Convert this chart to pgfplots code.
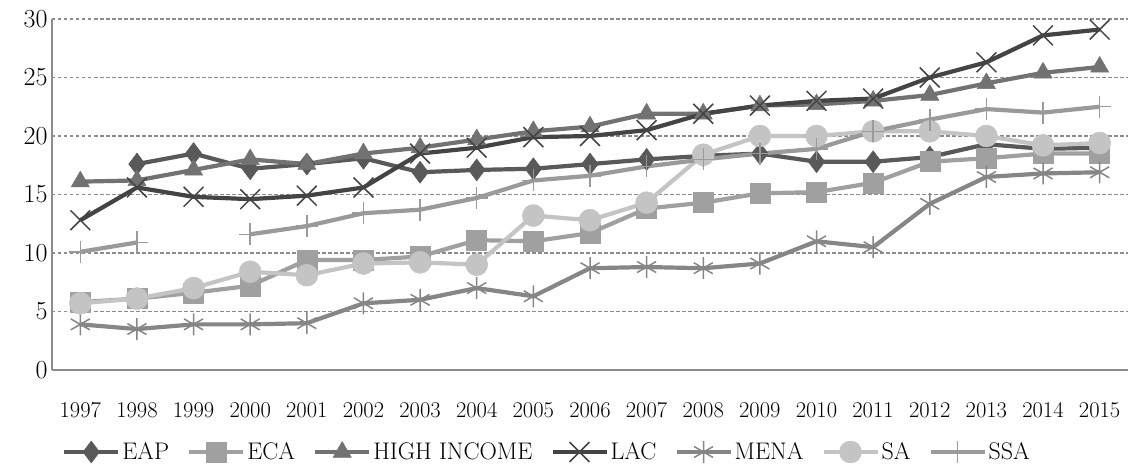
\documentclass[border=0pt]{standalone}
\usepackage{fontspec}
\usepackage{pgfplots}
\pgfplotsset{compat=1.18}

\definecolor{cEAP}{HTML}{595959}
\definecolor{cECA}{HTML}{A0A0A0}
\definecolor{cHI}{HTML}{727272}
\definecolor{cLAC}{HTML}{444444}
\definecolor{cMENA}{HTML}{868686}
\definecolor{cSA}{HTML}{C4C4C4}
\definecolor{cSSA}{HTML}{9A9A9A}
\definecolor{cgrid}{HTML}{8C8C8C}

\begin{document}
\begin{tikzpicture}
\begin{axis}[
  scale only axis,
  width=1076pt, height=351pt,
  xmin=1996.5, xmax=2015.5,
  ymin=0, ymax=30,
  xtick={1997,...,2015},
  ytick={0,5,...,30},
  axis x line*=bottom, axis y line*=left,
  axis line style={draw=cgrid, line width=1.4pt, -},
  major tick length=0pt,
  ymajorgrids,
  grid style={draw=cgrid, line width=1.1pt, dash pattern=on 3.5pt off 2.5pt},
  /pgf/number format/.cd, 1000 sep={}, assume math mode=true, /pgfplots/.cd,
  xticklabel style={font=\fontsize{22.5}{25}\selectfont, yshift=-29pt},
  yticklabel style={font=\fontsize{26}{28}\selectfont, xshift=-1pt},
  unbounded coords=jump,
  every axis plot/.append style={line width=4.2pt, line join=round},
  legend columns=7,
  legend style={at={(axis description cs:0,0)}, anchor=west, xshift=10pt, yshift=-82pt,
    draw=none, fill=none, inner sep=0pt,
    font=\fontsize{24}{26}\selectfont,
    nodes={inner xsep=2pt, inner ysep=0pt},
    /tikz/every even column/.append style={column sep=16pt}},
  legend image code/.code={
    \draw[mark repeat=2, mark phase=2, #1] plot coordinates {(0pt,0pt) (27pt,0pt) (54pt,0pt)};},
]
% EAP
\addplot[color=cEAP, mark=diamond*, mark size=11pt, mark options={line width=0.5pt}] coordinates {
(1998,17.6) (1999,18.5) (2000,17.2) (2001,17.6) (2002,18.1) (2003,16.9) (2004,17.1) (2005,17.2)
(2006,17.6) (2007,18.0) (2008,18.3) (2009,18.5) (2010,17.8) (2011,17.8) (2012,18.2) (2013,19.3)
(2014,18.9) (2015,19.0)};
\addlegendentry{EAP}
% ECA
\addplot[color=cECA, mark=square*, mark size=10pt, mark options={line width=0.5pt}] coordinates {
(1997,5.8) (1998,6.1) (1999,6.6) (2000,7.2) (2001,9.4) (2002,9.4) (2003,9.7) (2004,11.1)
(2005,11.0) (2006,11.7) (2007,13.8) (2008,14.3) (2009,15.1) (2010,15.2) (2011,16.0) (2012,17.8)
(2013,18.1) (2014,18.5) (2015,18.5)};
\addlegendentry{ECA}
% HIGH INCOME
\addplot[color=cHI, mark=triangle*, mark size=10.5pt, mark options={line width=0.5pt}] coordinates {
(1997,16.1) (1998,16.2) (1999,17.1) (2000,18.0) (2001,17.6) (2002,18.5) (2003,19.0) (2004,19.7)
(2005,20.4) (2006,20.8) (2007,21.9) (2008,21.9) (2009,22.6) (2010,22.7) (2011,23.0) (2012,23.5)
(2013,24.5) (2014,25.4) (2015,25.9)};
\addlegendentry{HIGH INCOME}
% LAC
\addplot[color=cLAC, mark=x, mark size=14pt, mark options={line width=1.5pt}] coordinates {
(1997,12.8) (1998,15.6) (1999,14.8) (2000,14.6) (2001,14.9) (2002,15.6) (2003,18.5) (2004,19.0)
(2005,19.9) (2006,20.0) (2007,20.5) (2008,21.9) (2009,22.6) (2010,23.0) (2011,23.2) (2012,25.0)
(2013,26.3) (2014,28.6) (2015,29.1)};
\addlegendentry{LAC}
% MENA
\addplot[color=cMENA, mark=asterisk, mark size=11pt, mark options={line width=1.5pt}] coordinates {
(1997,3.9) (1998,3.5) (1999,3.9) (2000,3.9) (2001,4.0) (2002,5.7) (2003,6.0) (2004,7.0)
(2005,6.3) (2006,8.7) (2007,8.8) (2008,8.7) (2009,9.1) (2010,11.0) (2011,10.5) (2012,14.2)
(2013,16.5) (2014,16.8) (2015,16.9)};
\addlegendentry{MENA}
% SA
\addplot[color=cSA, mark=*, mark size=11pt, mark options={line width=0.5pt}] coordinates {
(1997,5.7) (1998,6.1) (1999,7.0) (2000,8.4) (2001,8.1) (2002,9.1) (2003,9.2) (2004,9.0)
(2005,13.2) (2006,12.8) (2007,14.3) (2008,18.4) (2009,20.0) (2010,20.0) (2011,20.4) (2012,20.4)
(2013,20.0) (2014,19.2) (2015,19.4)};
\addlegendentry{SA}
% SSA
\addplot[color=cSSA, mark=+, mark size=11pt, mark options={line width=1.5pt}] coordinates {
(1997,10.1) (1998,10.9) (1999,nan) (2000,11.6) (2001,12.3) (2002,13.4) (2003,13.7) (2004,14.7)
(2005,16.2) (2006,16.6) (2007,17.4) (2008,18.0) (2009,18.5) (2010,18.9) (2011,20.4) (2012,21.4)
(2013,22.3) (2014,22.0) (2015,22.5)};
\addlegendentry{SSA}
\end{axis}
\pgfresetboundingbox
\path[use as bounding box] (-52pt,-95pt) rectangle (1077pt,370pt);
\end{tikzpicture}
\end{document}
